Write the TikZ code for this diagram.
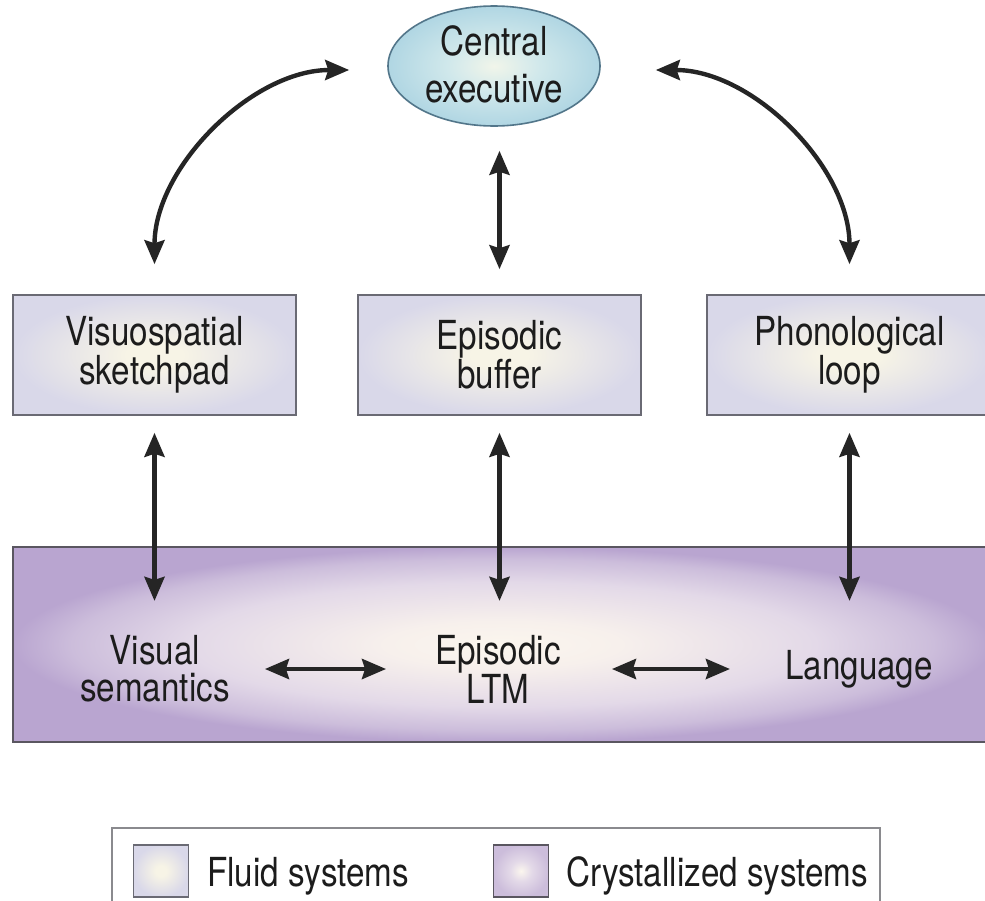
\documentclass[tikz,border=0pt]{standalone}
\usepackage{fontspec}
\setmainfont{TeX Gyre Heros}[FakeStretch=0.83]
\usetikzlibrary{arrows.meta,shapes.geometric}
\definecolor{boxin}{HTML}{F7F4E6}
\definecolor{boxout}{HTML}{D9D8E9}
\definecolor{boxline}{HTML}{6A6A74}
\definecolor{ellin}{HTML}{F1F5EA}
\definecolor{ellmid}{HTML}{D0E8EB}
\definecolor{ellout}{HTML}{B0D6E3}
\definecolor{ellline}{HTML}{52768A}
\definecolor{bandin}{HTML}{FBF6EE}
\definecolor{bandin2}{HTML}{F7F0EC}
\definecolor{bandmid}{HTML}{E3D9E8}
\definecolor{bandmid2}{HTML}{CCBDDB}
\definecolor{bandout}{HTML}{B9A5D0}
\definecolor{bandline}{HTML}{5A5660}
\definecolor{legline}{HTML}{8A8A8E}
\definecolor{arrowcol}{HTML}{252525}
\definecolor{txt}{HTML}{1C1C1C}
\pgfdeclareradialshading{boxshade}{\pgfpoint{0bp}{0bp}}{color(0bp)=(boxin); color(10bp)=(boxin); color(50bp)=(boxout)}
\pgfdeclareradialshading{ellshade}{\pgfpoint{0bp}{0bp}}{color(0bp)=(ellin); color(22bp)=(ellmid); color(50bp)=(ellout)}
\pgfdeclareradialshading{bandshade}{\pgfpoint{0bp}{0bp}}{color(0bp)=(bandin); color(12bp)=(bandin2); color(32bp)=(bandmid); color(44bp)=(bandmid2); color(50bp)=(bandout)}
\pgfdeclareradialshading{swshade}{\pgfpoint{0bp}{0bp}}{color(0bp)=(bandin); color(20bp)=(bandmid); color(50bp)=(bandmid2)}
% gradient fill of a rectangle: shading, cx, cy, w, h, outer colour
\newcommand{\gradrect}[6]{%
  \begin{scope}
    \clip (#2-#4/2,#3-#5/2) rectangle (#2+#4/2,#3+#5/2);
    \fill[#6] (#2-#4/2,#3-#5/2) rectangle (#2+#4/2,#3+#5/2);
    \begin{scope}[shift={(#2,#3)}, xscale=#4/100.375, yscale=#5/100.375]
      \pgflowlevelsynccm\pgfuseshading{#1}
    \end{scope}
  \end{scope}}
% gradient fill of an ellipse: shading, cx, cy, w, h
\newcommand{\gradell}[5]{%
  \begin{scope}
    \clip (#2,#3) ellipse [x radius=#4/2, y radius=#5/2];
    \begin{scope}[shift={(#2,#3)}, xscale=#4/100.375, yscale=#5/100.375]
      \pgflowlevelsynccm\pgfuseshading{#1}
    \end{scope}
  \end{scope}}
\begin{document}
\begin{tikzpicture}[x=1pt,y=-1pt,
  every node/.style={text=txt, font=\fontsize{40}{37}\selectfont, align=center, inner sep=0pt},
  fluidbox/.style={draw=boxline, line width=1.6pt, minimum width=283pt, minimum height=120pt},
  exec/.style={ellipse, draw=ellline, line width=1.6pt, minimum width=212pt, minimum height=120pt},
  crystal/.style={draw=bandline, line width=2.2pt, minimum width=979pt, minimum height=195pt},
  arr/.style={{Stealth[length=24pt,width=20pt,inset=3pt]}-{Stealth[length=24pt,width=20pt,inset=3pt]}, line width=4.4pt, draw=arrowcol},
  legendbox/.style={draw=legline, line width=1.6pt, minimum width=768pt, minimum height=110pt},
  swatch/.style={line width=1.4pt, minimum width=55pt, minimum height=52pt},
  legtext/.style={anchor=base west, align=left}
]
\useasboundingbox (0,0) rectangle (985,900);
\clip (0,0) rectangle (985,900);
\fill[white] (0,0) rectangle (985,900);

% gradient fills (drawn below the outlined nodes)
\gradell{ellshade}{494}{66}{212}{120}
\gradrect{boxshade}{154.5}{355}{283}{120}{boxout}
\gradrect{boxshade}{499.5}{355}{283}{120}{boxout}
\gradrect{boxshade}{849.5}{355}{285}{120}{boxout}
\gradrect{bandshade}{502.5}{644.5}{979}{195}{bandout}
\gradrect{boxshade}{161}{871}{55}{52}{boxout}
\gradrect{swshade}{521}{871}{55}{52}{bandmid2}

% central executive
\node[exec] (ce) at (494,66) {};
\node[font=\fontsize{40}{47}\selectfont] (cet) at (494,64) {Central\\executive};

% fluid boxes
\node[fluidbox] (vs) at (154.5,355) {Visuospatial\\sketchpad};
\node[fluidbox] (eb) at (499.5,355) {Episodic\\buffer};
\node[fluidbox, minimum width=285pt] (pl) at (849.5,355) {Phonological\\loop};

% crystallized band
\node[crystal] (band) at (502.5,644.5) {};
\node (vsem) at (155,669) {Visual\\semantics};
\node (eltm) at (498,669) {Episodic\\LTM};
\node (lang) at (859,669) {Language};

% helper coordinates
\coordinate (vsb) at (vs.south |- band.north);
\coordinate (ebb) at (eb.south |- band.north);
\coordinate (plb) at (pl.south |- band.north);
\coordinate (ceb) at (eb.north |- ce.south);

% arrows
\draw[arr] ([yshift=-24pt]ceb) -- ([yshift=25pt]eb.north);
\draw[arr] ([yshift=30pt]vs.north) .. controls +(0,-97) and +(-97,0) .. ([xshift=-38pt,yshift=-4pt]ce.west);
\draw[arr] ([xshift=55pt,yshift=-4pt]ce.east) .. controls +(97,0) and +(0,-97) .. ([yshift=30pt]pl.north);
\draw[arr] ([yshift=-17pt]vs.south) -- ([yshift=-55pt]vsb);
\draw[arr] ([yshift=-17pt]eb.south) -- ([yshift=-55pt]ebb);
\draw[arr] ([yshift=-17pt]pl.south) -- ([yshift=-55pt]plb);
\draw[arr] ([xshift=35pt]vsem.east) -- ([xshift=-49pt]eltm.west);
\draw[arr] ([xshift=51pt]eltm.east) -- ([xshift=-55pt]lang.west);

% legend
\node[legendbox] (legend) at (496,883) {};
\node[swatch, draw=boxline] (swf) at (161,871) {};
\node[swatch, draw=bandline] (swc) at (521,871) {};
\node[legtext] (lf) at (207,886) {Fluid systems};
\node[legtext] (lc) at (566,886) {Crystallized systems};
\end{tikzpicture}
\end{document}
